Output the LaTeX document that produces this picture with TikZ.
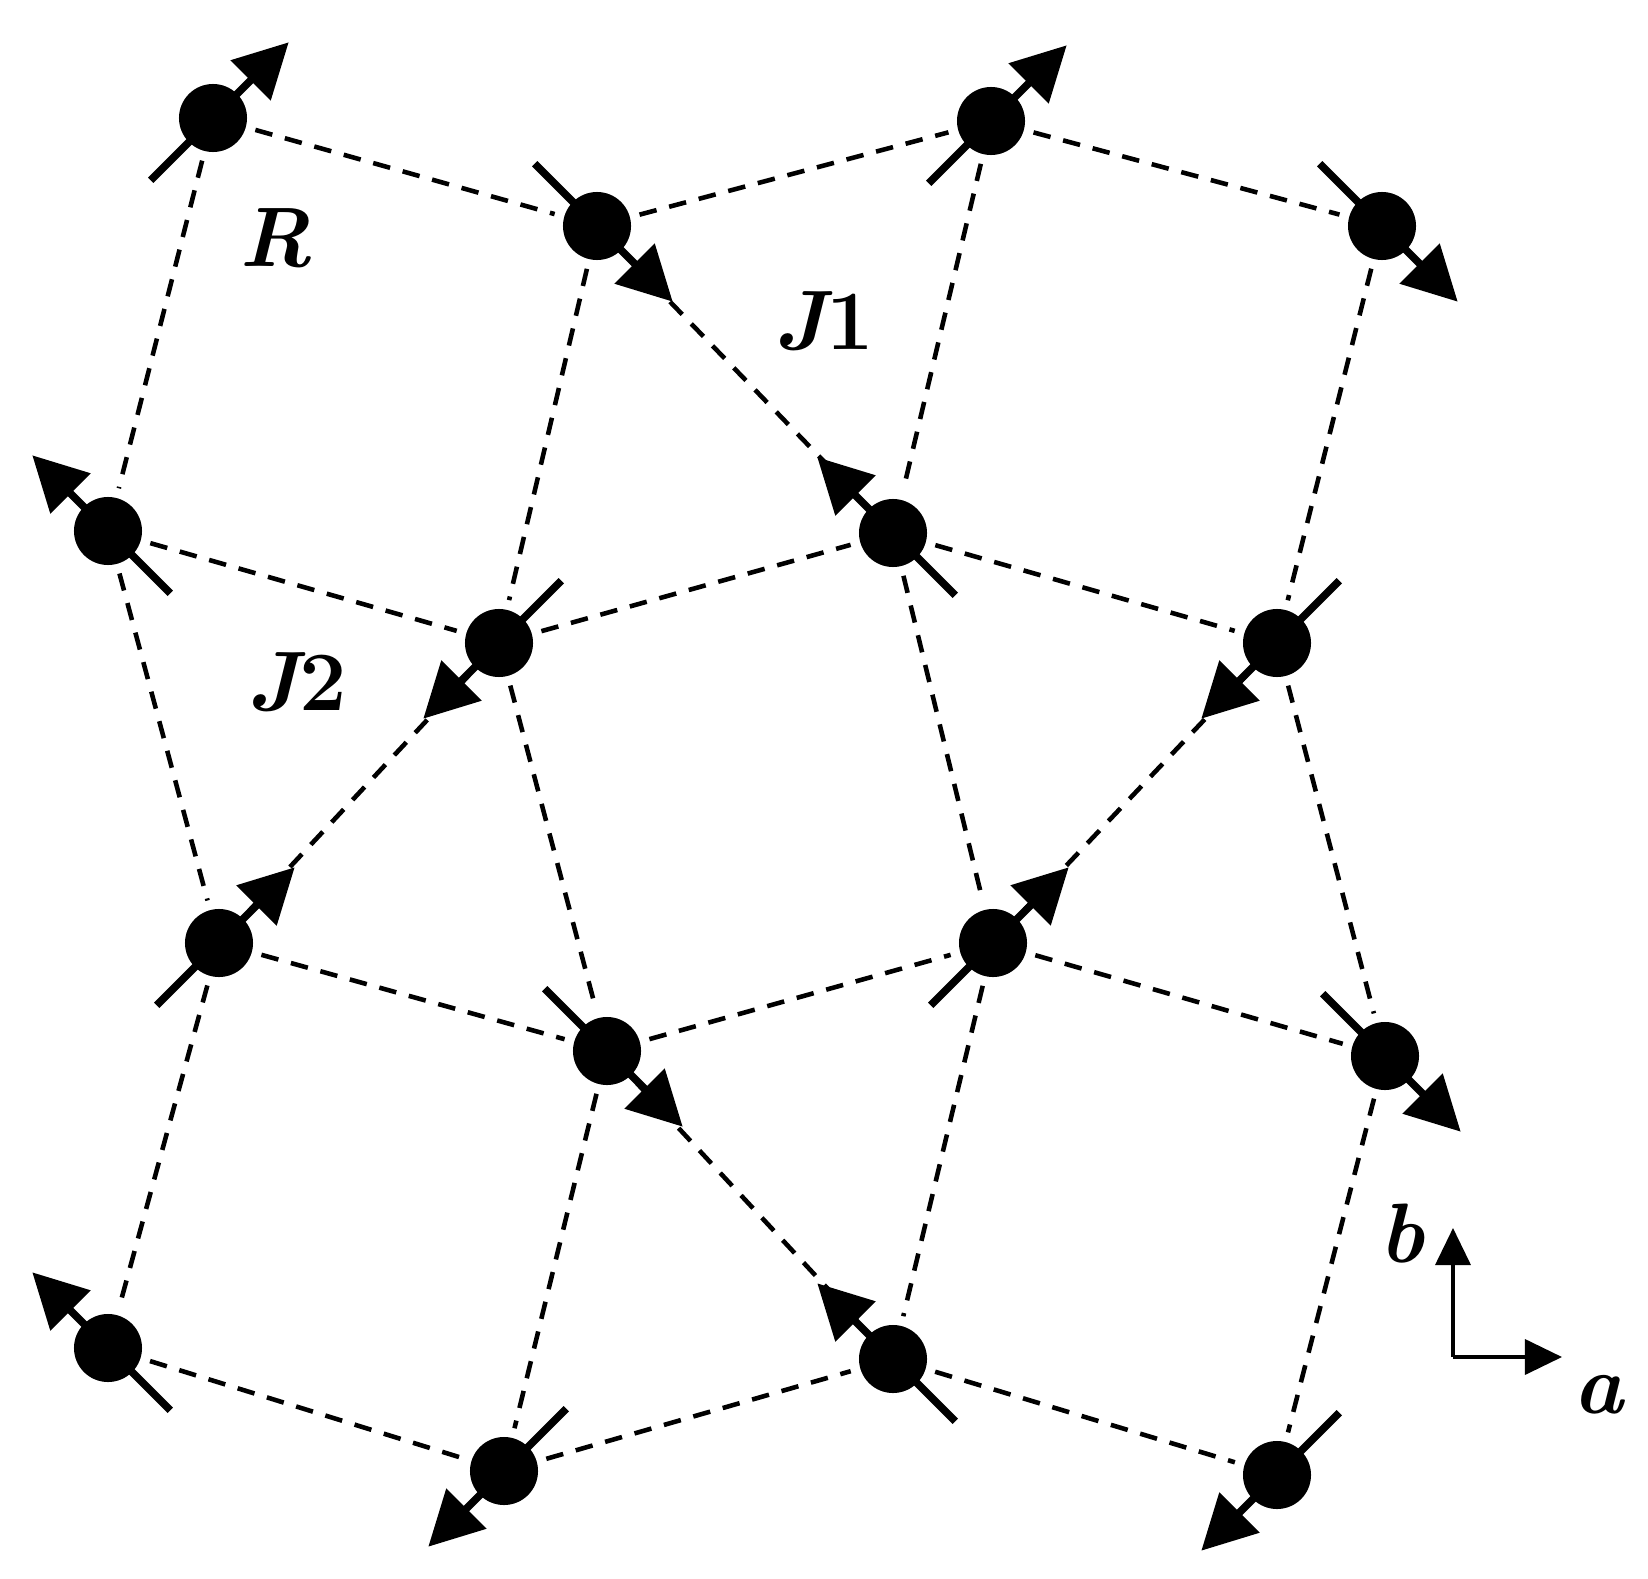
\documentclass[tikz,border=0pt]{standalone}
\usepackage{tikz}
\usetikzlibrary{calc}
\usetikzlibrary{arrows.meta}
\tikzstyle{every node}=[font=\fontsize{24}{28}\selectfont\bfseries\itshape]
\tikzstyle{site}=[circle,fill=black,inner sep=0pt,minimum size=0.68cm,outer sep=0.1cm]
\tikzstyle{bond}=[line width=1.3pt,dash pattern=on 5pt off 3.7pt]
\tikzstyle{spinarrow}=[line width=2.2pt,-{Triangle[length=0.54cm,width=0.55cm]}]
\tikzstyle{axis}=[line width=1pt,-{Triangle[length=0.37cm,width=0.35cm]}]
\newcommand{\drawspin}[2]{\draw[spinarrow] ($(#1)+(#2+180:0.88cm)$) -- ($(#1)+(#2:1.07cm)$);}

\begin{document}
\begin{tikzpicture}[line join=round,x=0.01cm,y=-0.01cm]
            \useasboundingbox (0,0) rectangle (1648,1579);
            % magnetic sites
            \node[site] (s11) at (213,118) {};
            \node[site] (s12) at (597,226) {};
            \node[site] (s13) at (991,121) {};
            \node[site] (s14) at (1382,226) {};
            \node[site] (s21) at (108,531) {};
            \node[site] (s22) at (499,643) {};
            \node[site] (s23) at (893,533) {};
            \node[site] (s24) at (1277,643) {};
            \node[site] (s31) at (219,943) {};
            \node[site] (s32) at (607,1051) {};
            \node[site] (s33) at (993,943) {};
            \node[site] (s34) at (1385,1056) {};
            \node[site] (s41) at (108,1348) {};
            \node[site] (s42) at (504,1471) {};
            \node[site] (s43) at (893,1359) {};
            \node[site] (s44) at (1277,1475) {};
            % bonds
            \draw [bond] (s11) -- (s12);
            \draw [bond] (s12) -- (s13);
            \draw [bond] (s13) -- (s14);
            \draw [bond] (s21) -- (s22);
            \draw [bond] (s22) -- (s23);
            \draw [bond] (s23) -- (s24);
            \draw [bond] (s31) -- (s32);
            \draw [bond] (s32) -- (s33);
            \draw [bond] (s33) -- (s34);
            \draw [bond] (s41) -- (s42);
            \draw [bond] (s42) -- (s43);
            \draw [bond] (s43) -- (s44);
            \draw [bond] (s11) -- (s21);
            \draw [bond] (s12) -- (s22);
            \draw [bond] (s13) -- (s23);
            \draw [bond] (s14) -- (s24);
            \draw [bond] (s21) -- (s31);
            \draw [bond] (s22) -- (s32);
            \draw [bond] (s23) -- (s33);
            \draw [bond] (s24) -- (s34);
            \draw [bond] (s31) -- (s41);
            \draw [bond] (s32) -- (s42);
            \draw [bond] (s33) -- (s43);
            \draw [bond] (s34) -- (s44);
            \draw [bond] (s12) -- (s23);
            \draw [bond] (s22) -- (s31);
            \draw [bond] (s24) -- (s33);
            \draw [bond] (s32) -- (s43);
            % spins
            \drawspin{s11}{45} \drawspin{s12}{-45} \drawspin{s13}{45} \drawspin{s14}{-45}
            \drawspin{s21}{135} \drawspin{s22}{225} \drawspin{s23}{135} \drawspin{s24}{225}
            \drawspin{s31}{45} \drawspin{s32}{-45} \drawspin{s33}{45} \drawspin{s34}{-45}
            \drawspin{s41}{135} \drawspin{s42}{225} \drawspin{s43}{135} \drawspin{s44}{225}
            % labels
            \node[anchor=base] (lR) at (276,267) {R};
            \node[anchor=base] (lJ1) at (824,350) {J\upshape 1};
            \node[anchor=base] (lJ2) at (297,710) {J\upshape 2};
            % axes
            \coordinate (o) at (1453,1357);
            \coordinate (ya) at (1453,1228);
            \coordinate (xa) at (1562,1357);
            \draw [axis] (o) -- (ya);
            \draw [axis] (o) -- (xa);
            \node[anchor=base] (lb) at (1402,1262) {b};
            \node[anchor=base] (la) at (1598,1413) {a};
\end{tikzpicture}
\end{document}
